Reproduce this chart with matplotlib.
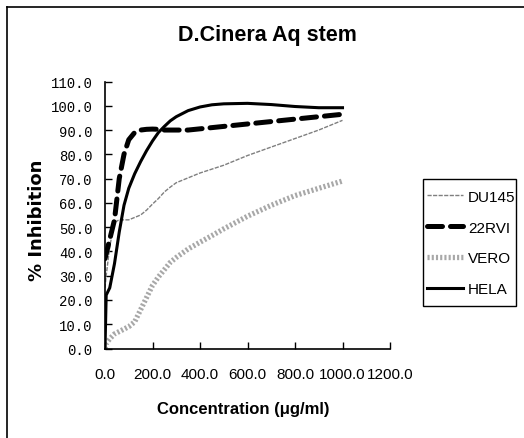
import matplotlib
matplotlib.use("Agg")
import matplotlib.pyplot as plt
from matplotlib.lines import Line2D
from matplotlib.patches import Rectangle

# Data
conc = [0, 5, 20, 40, 60, 80, 100, 125, 150, 175, 200, 225, 250, 275, 300, 350, 400, 450, 500,
        600, 700, 800, 900, 1000]
du145 = [25, 30, 42, 52, 53, 53, 53, 54, 55, 57, 59.5, 61.8, 64.5, 66.5, 68.3, 70.3, 72.3, 73.9, 75.5,
         79.5, 83, 86.5, 90, 94]
rvi22 = [37, 39, 45, 53, 70, 80, 86, 89, 90, 90.3, 90.4, 90.3, 90, 90, 90, 90, 90.5, 91, 91.5,
         92.5, 93.5, 94.5, 95.5, 96.5]
vero = [0, 2, 4, 6, 7, 8, 9, 11, 16, 21, 26, 29.5, 32.5, 35.5, 37.5, 41, 43.8, 46.5, 49.3,
        54.5, 59, 63, 66, 69]
hela = [0, 22, 25, 35, 48, 59, 66, 72, 77, 81.5, 85.5, 89, 91.5, 93.8, 95.5, 98, 99.5, 100.4, 100.8,
        101, 100.5, 99.7, 99.2, 99.2]

series_names = ["DU145", "22RVI", "VERO", "HELA"]
xticks = [0, 200, 400, 600, 800, 1000, 1200]
yticks = [0, 10, 20, 30, 40, 50, 60, 70, 80, 90, 100, 110]

W, H = 524, 439
fig = plt.figure(figsize=(W / 100, H / 100), dpi=100)

# figure border (left and top visible)
fig.add_artist(Line2D([7 / W, 7 / W], [0, 1 - 8 / H], color="black", lw=1.2, transform=fig.transFigure))
fig.add_artist(Line2D([7 / W, 1], [1 - 8 / H, 1 - 8 / H], color="black", lw=1.2, transform=fig.transFigure))

left, right, top, bottom = 105, 390, 82.5, 349.5
ax = fig.add_axes([left / W, 1 - bottom / H, (right - left) / W, (bottom - top) / H])

ax.plot(conc, du145, color="#7f7f7f", lw=1.0, ls=(0, (3, 1)), label=series_names[0])
ax.plot(conc, rvi22, color="black", lw=3.6, ls=(0, (3, 1.6)), label=series_names[1],
        dash_capstyle="round")
ax.plot(conc, vero, color="#a8a8a8", lw=3.8, ls=(0, (0.4, 0.4)), label=series_names[2])
ax.plot(conc, hela, color="black", lw=2.2, label=series_names[3])

ax.set_xlim(0, 1200)
ax.set_ylim(0, 110)
ax.set_xticks(xticks)
ax.set_xticklabels([f"{v:.1f}" for v in xticks], fontfamily="Liberation Sans", fontsize=11)
ax.set_yticks(yticks)
ax.set_yticklabels([f"{v:.1f}" for v in yticks], fontfamily="Liberation Mono", fontsize=10)
ax.tick_params(axis="x", direction="in", length=5, width=1, pad=13)
ax.tick_params(axis="y", direction="in", length=5, width=1, pad=9)
for s in ["top", "right"]:
    ax.spines[s].set_visible(False)
for s in ["left", "bottom"]:
    ax.spines[s].set_linewidth(1.2)

fig.text(267.5 / W, 1 - 36 / H, "D.Cinera Aq stem", ha="center", va="center",
         fontfamily="Liberation Sans", fontweight="bold", fontsize=15.5)
fig.text(243.5 / W, 1 - 410 / H, "Concentration (μg/ml)", ha="center", va="center",
         fontfamily="Liberation Sans", fontweight="bold", fontsize=12)
fig.text(37 / W, 1 - 220 / H, "% Inhibition", ha="center", va="center", rotation=90,
         fontfamily="DejaVu Sans", fontweight="bold", fontsize=13)

# legend frame drawn separately
fig.add_artist(Rectangle((423 / W, 1 - 307 / H), (516 - 423) / W, (307 - 180) / H,
                         transform=fig.transFigure, fill=False, edgecolor="black", lw=1.0))
leg = fig.legend(loc="upper left", bbox_to_anchor=(423 / W, 1 - 187 / H), borderaxespad=0,
                 prop={"family": "Liberation Sans", "size": 11}, handlelength=2.4, handletextpad=0.3,
                 labelspacing=1.1, borderpad=0.25, frameon=False)

fig.savefig("out.png", dpi=100)
